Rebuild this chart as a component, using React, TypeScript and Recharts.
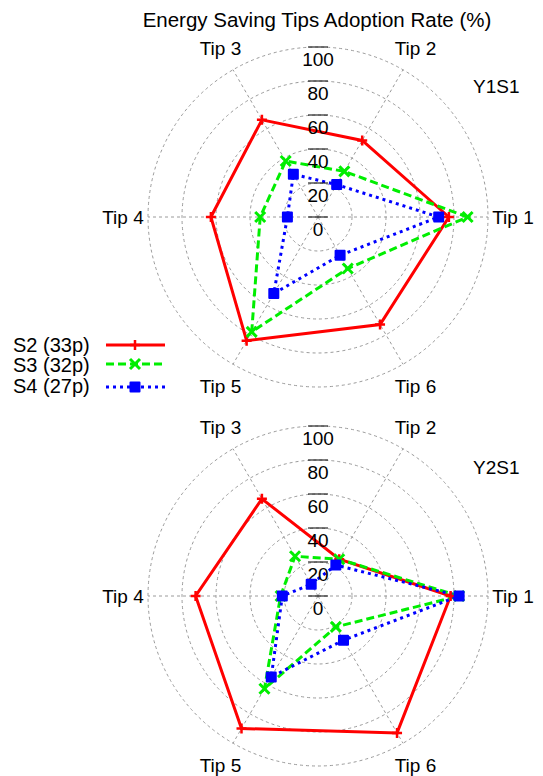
// Energy saving tips adoption rate — two stacked radar charts (Y1S1, Y2S1)

import React from 'react';
import { RadarChart, Radar, PolarGrid, PolarAngleAxis, PolarRadiusAxis } from 'recharts';

const tips = ['Tip 1', 'Tip 2', 'Tip 3', 'Tip 4', 'Tip 5', 'Tip 6'];
const radiusTicks = [0, 20, 40, 60, 80, 100];

// Y1S1
const y1S2 = [77, 52, 66, 63, 84, 73];
const y1S3 = [88, 31, 38, 34, 78, 35];
const y1S4 = [71, 22, 29, 18, 52, 26];

// Y2S1
const y2S2 = [78, 25, 66, 72, 90, 93];
const y2S3 = [83, 25, 27, 22, 63, 21];
const y2S4 = [83, 21, 8, 21, 55, 30];

const seriesNames = ['S2 (33p)', 'S3 (32p)', 'S4 (27p)'];

const FONT = '"Liberation Sans", Arial, Helvetica, sans-serif';
const RADIAN = Math.PI / 180;
const CX = 318;
const OUTER = 170;

const RED = '#ff0000';
const GREEN = '#00ee00';
const BLUE = '#0000ff';

// ── marker shapes ──────────────────────────────────────────────────────────
const plusMark = (cx: number, cy: number, key?: string) => (
  <path key={key} d={`M${cx - 5},${cy}h10M${cx},${cy - 5}v10`} stroke={RED} strokeWidth={2.5} fill="none" />
);
const crossMark = (cx: number, cy: number, key?: string) => (
  <path key={key} d={`M${cx - 5},${cy - 5}L${cx + 5},${cy + 5}M${cx - 5},${cy + 5}L${cx + 5},${cy - 5}`} stroke={GREEN} strokeWidth={3} fill="none" />
);
const boxMark = (cx: number, cy: number, key?: string) => (
  <rect key={key} x={cx - 4.5} y={cy - 4.5} width={9} height={9} fill={BLUE} stroke={BLUE} strokeWidth={2} strokeLinejoin="round" />
);

function buildRows(s2: number[], s3: number[], s4: number[]) {
  return tips.map((tip, i) => ({ tip, s2: s2[i], s3: s3[i], s4: s4[i] }));
}

interface PanelProps {
  s2: number[];
  s3: number[];
  s4: number[];
  height: number;
  cy: number;
}

function Panel({ s2, s3, s4, height, cy }: PanelProps) {
  const data = buildRows(s2, s3, s4);

  // category labels go counter-clockwise from the right, one every 360/n degrees,
  // centred on a ring just outside the grid
  const angleTick = (props: any) => {
    const idx = tips.indexOf(props.payload.value);
    const angle = (idx * 360) / tips.length;
    const r = 195;
    const x = CX + Math.cos(-angle * RADIAN) * r;
    const y = cy + Math.sin(-angle * RADIAN) * r;
    return (
      <text x={x} y={y} dy="0.36em" textAnchor="middle" fontSize={19} fontFamily={FONT} fill="#000">
        {props.payload.value}
      </text>
    );
  };

  const radiusTick = (props: any) => {
    const { x, y, payload } = props;
    return (
      <g>
        <line x1={x - 10} x2={x + 10} y1={y} y2={y} stroke="#000" strokeWidth={1} />
        <text x={x} y={y + 18.5} textAnchor="middle" fontSize={19} fontFamily={FONT} fill="#000">
          {payload.value}
        </text>
      </g>
    );
  };

  return (
    <RadarChart
      width={543}
      height={height}
      data={data}
      cx={CX}
      cy={cy}
      outerRadius={OUTER}
      startAngle={-60}
      endAngle={300}
      margin={{ top: 0, right: 0, bottom: 0, left: 0 }}
    >
      <PolarGrid gridType="circle" stroke="#9a9a9a" strokeDasharray="3 3" />
      <PolarAngleAxis dataKey="tip" tick={angleTick} axisLine={false} tickLine={false} />
      <PolarRadiusAxis
        angle={90}
        domain={[0, 100]}
        ticks={radiusTicks as any}
        axisLine={false}
        tick={radiusTick}
      />
      <Radar
        dataKey="s2"
        stroke={RED}
        strokeWidth={3}
        fill="none"
        fillOpacity={0}
        dot={(p: any) => plusMark(p.cx, p.cy, `p${p.index}`)}
        isAnimationActive={false}
      />
      <Radar
        dataKey="s3"
        stroke={GREEN}
        strokeWidth={3}
        strokeDasharray="8 4"
        fill="none"
        fillOpacity={0}
        dot={(p: any) => crossMark(p.cx, p.cy, `c${p.index}`)}
        isAnimationActive={false}
      />
      <Radar
        dataKey="s4"
        stroke={BLUE}
        strokeWidth={3}
        strokeDasharray="3 4"
        fill="none"
        fillOpacity={0}
        dot={(p: any) => boxMark(p.cx, p.cy, `b${p.index}`)}
        isAnimationActive={false}
      />
    </RadarChart>
  );
}

export default function App() {
  const legendY = [345, 364, 387];
  const legendTextY = [352, 372, 393];
  const legendDash = [undefined, '8 4', '3 4'];
  const legendColor = [RED, GREEN, BLUE];
  const legendMark = [plusMark, crossMark, boxMark];

  return (
    <div style={{ position: 'absolute', left: 0, top: 0, width: 543, height: 776, background: '#fff' }}>
      <div style={{ position: 'absolute', left: 0, top: 0 }}>
        <Panel s2={y1S2} s3={y1S3} s4={y1S4} height={400} cy={217} />
      </div>
      <div style={{ position: 'absolute', left: 0, top: 390 }}>
        <Panel s2={y2S2} s3={y2S3} s4={y2S4} height={386} cy={206} />
      </div>
      <svg width={543} height={776} style={{ position: 'absolute', left: 0, top: 0, pointerEvents: 'none' }}>
        <text x={317} y={27} textAnchor="middle" fontSize={20.5} fontFamily={FONT} fill="#000">
          Energy Saving Tips Adoption Rate (%)
        </text>
        <text x={473} y={93} fontSize={19} fontFamily={FONT} fill="#000">Y1S1</text>
        <text x={473} y={474} fontSize={19} fontFamily={FONT} fill="#000">Y2S1</text>
        {seriesNames.map((name, i) => (
          <g key={name}>
            <text x={13} y={legendTextY[i]} fontSize={20} fontFamily={FONT} fill="#000">{name}</text>
            <line
              x1={106}
              x2={165}
              y1={legendY[i]}
              y2={legendY[i]}
              stroke={legendColor[i]}
              strokeWidth={3}
              strokeDasharray={legendDash[i]}
            />
            {legendMark[i](135, legendY[i])}
          </g>
        ))}
      </svg>
    </div>
  );
}
